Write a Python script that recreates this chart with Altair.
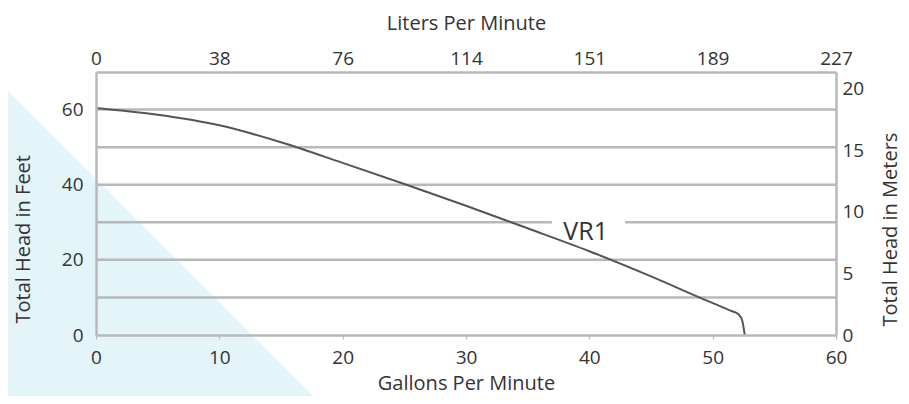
import json
import altair as alt
import pandas as pd

# ---- data ----
gpm = [0, 5, 10, 15, 20, 25, 30, 35, 40, 45, 49, 51.5, 52.1, 52.4, 52.6]
head_ft = [60.4, 58.6, 55.8, 51.3, 45.8, 40.2, 34.4, 28.4, 22.3, 15.6, 9.9, 6.4, 5.5, 3.8, 0]

x_ticks = [0, 10, 20, 30, 40, 50, 60]
lpm_labels = ["0", "38", "76", "114", "151", "189", "227"]
ft_ticks = [0, 20, 40, 60]
grid_ft = [10, 20, 30, 40, 50, 60]
meter_ticks = [0, 5, 10, 15, 20]

series_label = ["VR1"]
label_gpm = [39.7]
label_ft = [25.2]
gap_gpm = [36.96, 42.9]
gap_ft = [29.0, 31.0]

FT_PER_M = 1 / 0.3048

# ---- styling ----
FONT = "Open Sans"
TXT = "#333333"
GRID = "#b8b8b8"
BLUE = "#e4f5fa"

curve = pd.DataFrame({"gpm": gpm, "ft": head_ft})
xscale = alt.Scale(domain=[0, 60], nice=False)
yscale = alt.Scale(domain=[0, 70], nice=False)

common_axis = dict(
    labelFont=FONT, labelFontSize=19, labelColor=TXT,
    titleFont=FONT, titleFontSize=20, titleFontWeight="normal", titleColor=TXT,
    domainColor=GRID, domainWidth=2.5, grid=False, zindex=1,
    labelOverlap=False,
)

# decorative background triangle
tri = alt.Chart(pd.DataFrame({"k": [0]})).mark_point(
    shape="M-1,-1L-1,1L1,1Z", filled=True, size=321 * 321,
    color=BLUE, opacity=1, strokeWidth=0,
).encode(x=alt.value(64.5), y=alt.value(171.5))

grid = alt.Chart(pd.DataFrame({"ft": grid_ft})).mark_rule(
    color=GRID, strokeWidth=2.5
).encode(y=alt.Y("ft:Q", scale=yscale, axis=None))

gap = alt.Chart(pd.DataFrame({
    "x1": [gap_gpm[0]], "x2": [gap_gpm[1]], "y1": [gap_ft[0]], "y2": [gap_ft[1]]
})).mark_rect(color="white").encode(
    x=alt.X("x1:Q", scale=xscale, axis=None), x2="x2:Q",
    y=alt.Y("y1:Q", scale=yscale, axis=None), y2="y2:Q",
)

line = alt.Chart(curve).mark_line(
    color="#555555", strokeWidth=2, interpolate="monotone"
).encode(
    x=alt.X("gpm:Q", scale=xscale, axis=alt.Axis(
        orient="bottom", values=x_ticks, title="Gallons Per Minute",
        labelFlush=False, ticks=True, tickSize=4, tickColor=GRID, tickWidth=1.2,
        labelBaseline="alphabetic", labelPadding=24,
        titleY=54, titleBaseline="alphabetic", **common_axis)),
    y=alt.Y("ft:Q", scale=yscale, axis=alt.Axis(
        orient="left", values=ft_ticks, title="Total Head in Feet",
        ticks=False, tickSize=0, labelPadding=13,
        titleAngle=270, titleX=-67, titleY=251, titleAlign="left",
        titleBaseline="alphabetic", **common_axis)),
)

top_right = alt.Chart(curve).mark_line(opacity=0).encode(
    x=alt.X("gpm:Q", scale=xscale, axis=alt.Axis(
        orient="top", values=x_ticks, title="Liters Per Minute",
        labelExpr=json.dumps(lpm_labels) + "[round(datum.value/10)]",
        labelFlush=False, ticks=False, tickSize=0,
        labelBaseline="alphabetic", labelPadding=8,
        titleY=-43, titleBaseline="alphabetic", **common_axis)),
    y=alt.Y("ft:Q", scale=yscale, axis=alt.Axis(
        orient="right", values=[m * FT_PER_M for m in meter_ticks],
        labelExpr="format(datum.value*0.3048, '.0f')",
        title="Total Head in Meters",
        ticks=False, tickSize=0, labelPadding=6,
        titleAngle=270, titleX=60, titleY=254, titleAlign="left",
        titleBaseline="alphabetic", **common_axis)),
)

text = alt.Chart(pd.DataFrame({
    "t": series_label, "x": label_gpm, "y": label_ft
})).mark_text(
    font=FONT, fontSize=25, color=TXT, align="center", baseline="alphabetic"
).encode(
    x=alt.X("x:Q", scale=xscale, axis=None),
    y=alt.Y("y:Q", scale=yscale, axis=None),
    text="t:N",
)

chart = alt.layer(tri, grid, gap, line, top_right, text).resolve_axis(
    x="independent", y="independent"
).properties(
    width=740, height=263,
    autosize=alt.AutoSizeParams(type="none"),
    padding={"left": 88, "top": 64, "right": 65, "bottom": 61},
    background="white",
).configure_view(strokeWidth=0)

chart.save("out.html", embed_options={"renderer": "svg", "actions": False})
